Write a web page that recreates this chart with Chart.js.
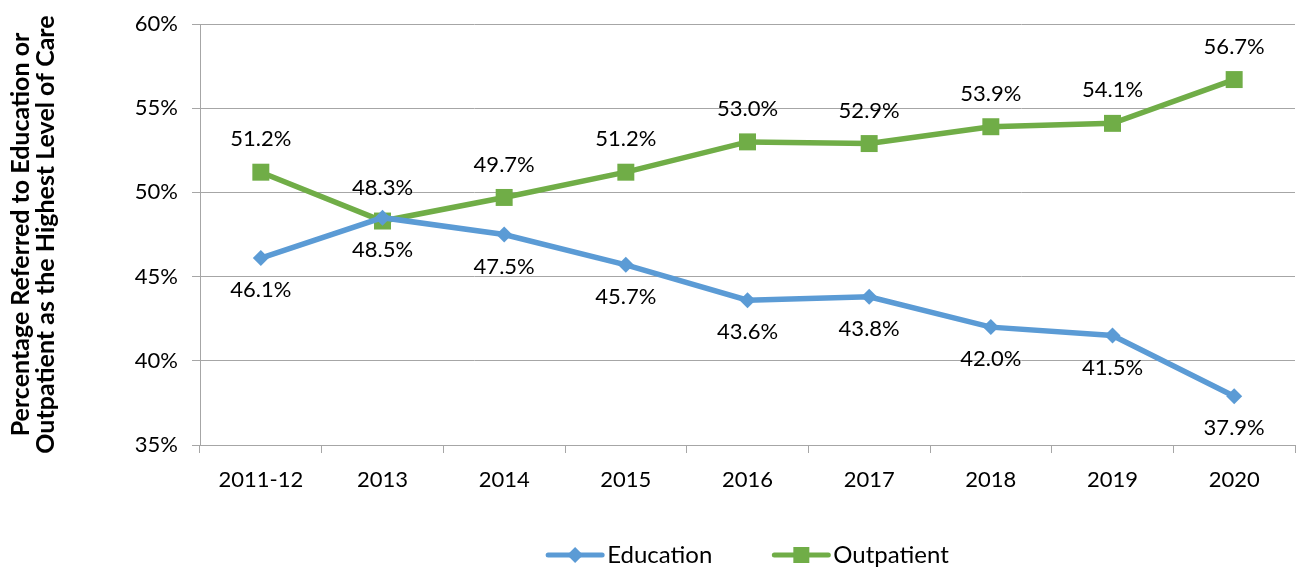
<!DOCTYPE html>
<html>
<head>
<meta charset="utf-8">
<script src="https://cdn.jsdelivr.net/npm/chart.js@4.4.1/dist/chart.umd.min.js"></script>
<style>
  html, body { margin: 0; padding: 0; background: #fff; }
  #wrap { width: 1296px; height: 571px; }
</style>
</head>
<body>
<div id="wrap"><canvas id="referralChart" width="1296" height="571"></canvas></div>
<script>
const years = ['2011-12', '2013', '2014', '2015', '2016', '2017', '2018', '2019', '2020'];
const education = [46.1, 48.5, 47.5, 45.7, 43.6, 43.8, 42.0, 41.5, 37.9];
const outpatient = [51.2, 48.3, 49.7, 51.2, 53.0, 52.9, 53.9, 54.1, 56.7];
const yTicks = [35, 40, 45, 50, 55, 60];

const FONT = 'Lato, "Open Sans", sans-serif';
const BLUE = '#5B9BD5';
const GREEN = '#70AD47';
const GRID = '#a6a6a6';

// value labels: green above the point, blue below
const valueLabels = {
    id: 'valueLabels',
    afterDatasetsDraw(chart) {
        const ctx = chart.ctx;
        ctx.save();
        ctx.font = '22px ' + FONT;
        ctx.fillStyle = '#000';
        ctx.textAlign = 'center';
        ctx.textBaseline = 'middle';
        chart.data.datasets.forEach((ds, i) => {
            const meta = chart.getDatasetMeta(i);
            meta.data.forEach((pt, j) => {
                const off = ds.labelSide === 'above' ? -33 : 32;
                ctx.fillText(ds.data[j].toFixed(1) + '%', pt.x, pt.y + off);
            });
        });
        ctx.restore();
    }
};

// legend drawn as line + marker, centred under the plot area
const lineLegend = {
    id: 'lineLegend',
    afterDraw(chart) {
        const ctx = chart.ctx;
        const area = chart.chartArea;
        const y = 555;
        const lineW = 58, gapText = 3, gapItem = 60;
        ctx.save();
        ctx.font = '24px ' + FONT;
        const items = chart.data.datasets.map(ds => ({ds, w: ctx.measureText(ds.label).width}));
        let total = 0;
        items.forEach((it, k) => { total += lineW + gapText + it.w + (k ? gapItem : 0); });
        let x = (area.left + area.right) / 2 - total / 2;
        items.forEach(it => {
            const ds = it.ds;
            ctx.strokeStyle = ds.borderColor;
            ctx.lineWidth = 5;
            ctx.lineCap = 'round';
            ctx.beginPath();
            ctx.moveTo(x + 2, y);
            ctx.lineTo(x + lineW - 2, y);
            ctx.stroke();
            const cx = x + lineW / 2;
            ctx.fillStyle = ds.borderColor;
            ctx.beginPath();
            if (ds.pointStyle === 'rectRot') {
                ctx.moveTo(cx - 8, y); ctx.lineTo(cx, y - 8);
                ctx.lineTo(cx + 8, y); ctx.lineTo(cx, y + 8);
            } else {
                ctx.rect(cx - 8, y - 8, 16, 16);
            }
            ctx.closePath();
            ctx.fill();
            ctx.fillStyle = '#000';
            ctx.textAlign = 'left';
            ctx.textBaseline = 'middle';
            ctx.fillText(ds.label, x + lineW + gapText, y);
            x += lineW + gapText + it.w + gapItem;
        });
        ctx.restore();
    }
};

const ctx = document.getElementById('referralChart').getContext('2d');

const chart = new Chart(ctx, {
    type: 'line',
    data: {
        labels: years,
        datasets: [{
            label: 'Education',
            data: education,
            borderColor: BLUE,
            backgroundColor: BLUE,
            borderWidth: 5.5,
            pointStyle: 'rectRot',
            pointRadius: 8,
            pointHoverRadius: 8,
            pointBorderWidth: 0,
            tension: 0,
            labelSide: 'below'
        }, {
            label: 'Outpatient',
            data: outpatient,
            borderColor: GREEN,
            backgroundColor: GREEN,
            borderWidth: 5.5,
            pointStyle: 'rect',
            pointRadius: 12,
            pointHoverRadius: 12,
            pointBorderWidth: 0,
            tension: 0,
            labelSide: 'above'
        }]
    },
    options: {
        responsive: false,
        animation: false,
        devicePixelRatio: 1,
        layout: { autoPadding: false, padding: { top: 24, right: 1, bottom: 0, left: 0 } },
        plugins: {
            legend: { display: false },
            tooltip: { enabled: false }
        },
        scales: {
            x: {
                offset: true,
                grid: { offset: true, drawOnChartArea: false, drawTicks: true, tickLength: 8, color: GRID },
                border: { color: GRID, width: 1 },
                ticks: { color: '#000', font: { family: FONT, size: 22 }, padding: 14, maxRotation: 0 },
                afterFit(scale) {
                    scale.height = 126;
                    scale.paddingLeft = 0;
                    scale.paddingRight = 0;
                }
            },
            y: {
                min: 35,
                max: 60,
                afterBuildTicks(scale) { scale.ticks = yTicks.map(v => ({value: v})); },
                grid: { color: GRID, tickLength: 8, lineWidth: 1 },
                border: { color: GRID, width: 1 },
                ticks: {
                    color: '#000',
                    font: { family: FONT, size: 22 },
                    padding: 14,
                    callback: v => v + '%'
                },
                title: {
                    display: true,
                    text: ['Percentage Referred to Education or', 'Outpatient as the Highest Level of Care'],
                    color: '#000',
                    font: { family: FONT, size: 25, weight: 'bold', lineHeight: 1.0 },
                    padding: { top: 8, bottom: 0 }
                },
                afterFit(scale) {
                    scale.width = 200;
                    scale.paddingTop = 0;
                    scale.paddingBottom = 0;
                }
            }
        }
    },
    plugins: [valueLabels, lineLegend]
});
</script>
</body>
</html>
